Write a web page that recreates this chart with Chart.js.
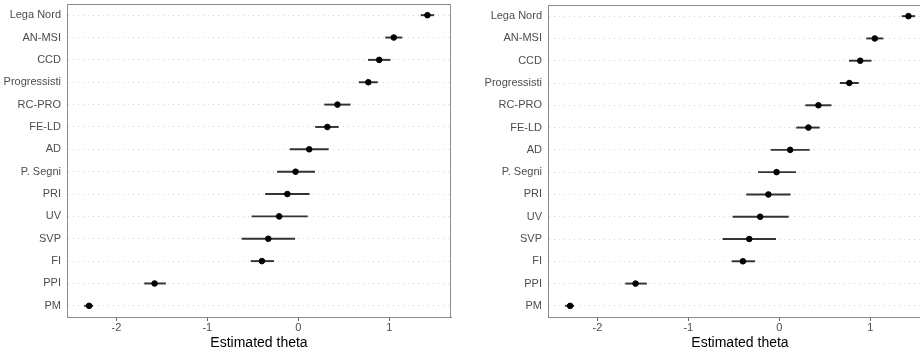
<!DOCTYPE html>
<html>
<head>
<meta charset="utf-8">
<script src="https://cdn.jsdelivr.net/npm/chart.js@4"></script>
<style>
  html, body { margin: 0; padding: 0; background: #fff; }
  #wrap { position: relative; width: 920px; height: 352px; overflow: hidden; }
  .panel { position: absolute; top: 0; height: 352px; }
  #p1 { left: 0; width: 460px; }
  #p2 { left: 460px; width: 480px; }
</style>
</head>
<body>
<div id="wrap">
  <div class="panel" id="p1"><canvas id="left"></canvas></div>
  <div class="panel" id="p2"><canvas id="right"></canvas></div>
</div>
<script>
const parties = ['Lega Nord', 'AN-MSI', 'CCD', 'Progressisti', 'RC-PRO', 'FE-LD', 'AD',
                 'P. Segni', 'PRI', 'UV', 'SVP', 'FI', 'PPI', 'PM'];
const theta = [1.42, 1.05, 0.89, 0.77, 0.43, 0.32, 0.12, -0.03, -0.12, -0.21, -0.33, -0.40, -1.58, -2.30];
const lower = [1.35, 0.96, 0.77, 0.67, 0.29, 0.19, -0.09, -0.23, -0.36, -0.51, -0.62, -0.52, -1.69, -2.35];
const upper = [1.49, 1.14, 1.01, 0.87, 0.57, 0.44, 0.33, 0.18, 0.12, 0.10, -0.04, -0.27, -1.46, -2.26];
const xTicks = [-2, -1, 0, 1];

const font = "'Liberation Sans', Arial, sans-serif";
Chart.defaults.font.family = font;

// top and right edge of the panel box
const panelBorder = {
    id: 'panelBorder',
    afterDraw(chart) {
        const a = chart.chartArea, ctx = chart.ctx;
        ctx.save();
        ctx.strokeStyle = '#8a8a8a';
        ctx.lineWidth = 1;
        ctx.beginPath();
        ctx.moveTo(a.left, a.top + 0.5);
        ctx.lineTo(a.right - 0.5, a.top + 0.5);
        ctx.lineTo(a.right - 0.5, a.bottom);
        ctx.stroke();
        ctx.restore();
    }
};

function makeChart(id, yWidth, pad) {
    return new Chart(document.getElementById(id), {
        type: 'bar',
        data: {
            labels: parties,
            datasets: [{
                type: 'scatter',
                data: parties.map((p, i) => ({ x: theta[i], y: p })),
                backgroundColor: '#000',
                borderColor: '#000',
                pointRadius: 2.8,
                pointHoverRadius: 2.8
            }, {
                data: parties.map((p, i) => [lower[i], upper[i]]),
                backgroundColor: '#333',
                barThickness: 1.3
            }]
        },
        options: {
            indexAxis: 'y',
            responsive: true,
            maintainAspectRatio: false,
            animation: false,
            layout: { padding: pad },
            plugins: { legend: { display: false }, tooltip: { enabled: false } },
            scales: {
                x: {
                    type: 'linear',
                    min: -2.543,
                    max: 1.679,
                    afterBuildTicks: s => { s.ticks = xTicks.map(v => ({ value: v })); },
                    grid: { drawOnChartArea: false, tickLength: 4, color: '#666' },
                    border: { color: '#8a8a8a' },
                    ticks: { color: '#4d4d4d', font: { size: 11 }, padding: 0 },
                    title: { display: true, text: 'Estimated theta', color: '#000',
                             font: { size: 14 }, padding: { top: 1, bottom: 0 } }
                },
                y: {
                    type: 'category',
                    offset: true,
                    afterFit: s => { s.width = yWidth; s.paddingTop = 0; s.paddingBottom = 0; },
                    grid: { offset: false, drawTicks: false, color: '#d6d6d6', lineWidth: 1 },
                    border: { color: '#8a8a8a', dash: [1, 4] },
                    ticks: { color: '#4d4d4d', font: { size: 11 }, padding: 6 }
                }
            }
        },
        plugins: [panelBorder]
    });
}

makeChart('left', 67, { top: 4, right: 9, left: 0, bottom: 0 });
makeChart('right', 88, { top: 5, right: 8, left: 0, bottom: 0 });
</script>
</body>
</html>
